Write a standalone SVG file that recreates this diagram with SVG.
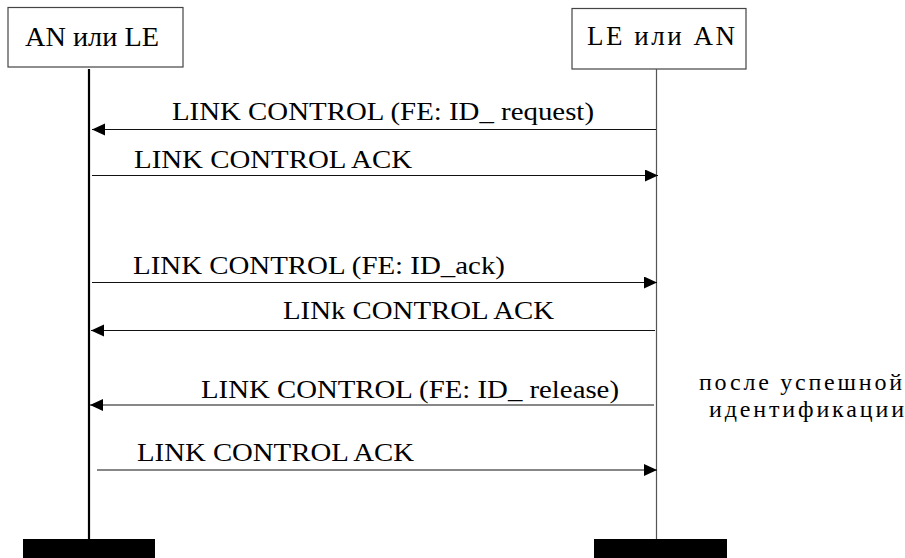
<svg xmlns="http://www.w3.org/2000/svg" width="905" height="558" viewBox="0 0 905 558">
<style>
  .box { fill: #fff; stroke: #444; stroke-width: 1.2; }
  .lbl { font-family: "Liberation Serif", "Times New Roman", serif; font-size: 26px; fill: #000; }
  .hdr { font-family: "Liberation Serif", "Times New Roman", serif; font-size: 27px; fill: #000; }
  .note { font-family: "Liberation Serif", "Times New Roman", serif; font-size: 24px; fill: #000; }
  .msg { stroke: #111; stroke-width: 1.2; fill: none; marker-end: url(#ah); }
  .bar { fill: #000; }
</style>
<defs>
  <marker id="ah" markerUnits="userSpaceOnUse" markerWidth="14" markerHeight="13" refX="13" refY="6" orient="auto">
    <path d="M0,0 L13,6 L0,12 Z" fill="#000"/>
  </marker>
</defs>
<g id="node-left">
  <rect class="box" x="8" y="7.5" width="175" height="59.5"/>
  <text class="hdr" x="25" y="46" textLength="134" lengthAdjust="spacingAndGlyphs">AN или LE</text>
  <line x1="89" y1="69" x2="89" y2="540" stroke="#000" stroke-width="2.2"/>
  <rect class="bar" x="23" y="539" width="132" height="19"/>
</g>
<g id="node-right">
  <rect class="box" x="572" y="8.5" width="174" height="60.5"/>
  <text class="hdr" x="587" y="45" textLength="148" lengthAdjust="spacing">LE или AN</text>
  <line x1="656.5" y1="69" x2="656.5" y2="540" stroke="#555" stroke-width="1.2"/>
  <rect class="bar" x="594" y="539" width="133" height="19"/>
</g>
<g id="connectors">
  <line class="msg" x1="656" y1="129.5" x2="92" y2="129.5"/>
  <text class="lbl" x="172" y="120" textLength="422" lengthAdjust="spacingAndGlyphs">LINK CONTROL (FE: ID_ request)</text>
  <line class="msg" x1="92" y1="175.5" x2="658" y2="175.5"/>
  <text class="lbl" x="134" y="168" textLength="278" lengthAdjust="spacingAndGlyphs">LINK CONTROL ACK</text>
  <line class="msg" x1="92" y1="282.5" x2="657" y2="282.5"/>
  <text class="lbl" x="133" y="274" textLength="372" lengthAdjust="spacingAndGlyphs">LINK CONTROL (FE: ID_ack)</text>
  <line class="msg" x1="655" y1="330.5" x2="91" y2="330.5"/>
  <text class="lbl" x="283" y="319" textLength="271" lengthAdjust="spacingAndGlyphs">LINk CONTROL ACK</text>
  <line class="msg" x1="654" y1="405" x2="90" y2="405"/>
  <text class="lbl" x="201" y="398" textLength="418" lengthAdjust="spacingAndGlyphs">LINK CONTROL (FE: ID_ release)</text>
  <line class="msg" x1="97" y1="470" x2="657" y2="470"/>
  <text class="lbl" x="137" y="461" textLength="277" lengthAdjust="spacingAndGlyphs">LINK CONTROL ACK</text>
</g>
<g id="note">
  <text class="note" x="699" y="390" textLength="203" lengthAdjust="spacing">после успешной</text>
  <text class="note" x="709" y="417" textLength="195" lengthAdjust="spacing">идентификации</text>
</g>
</svg>
